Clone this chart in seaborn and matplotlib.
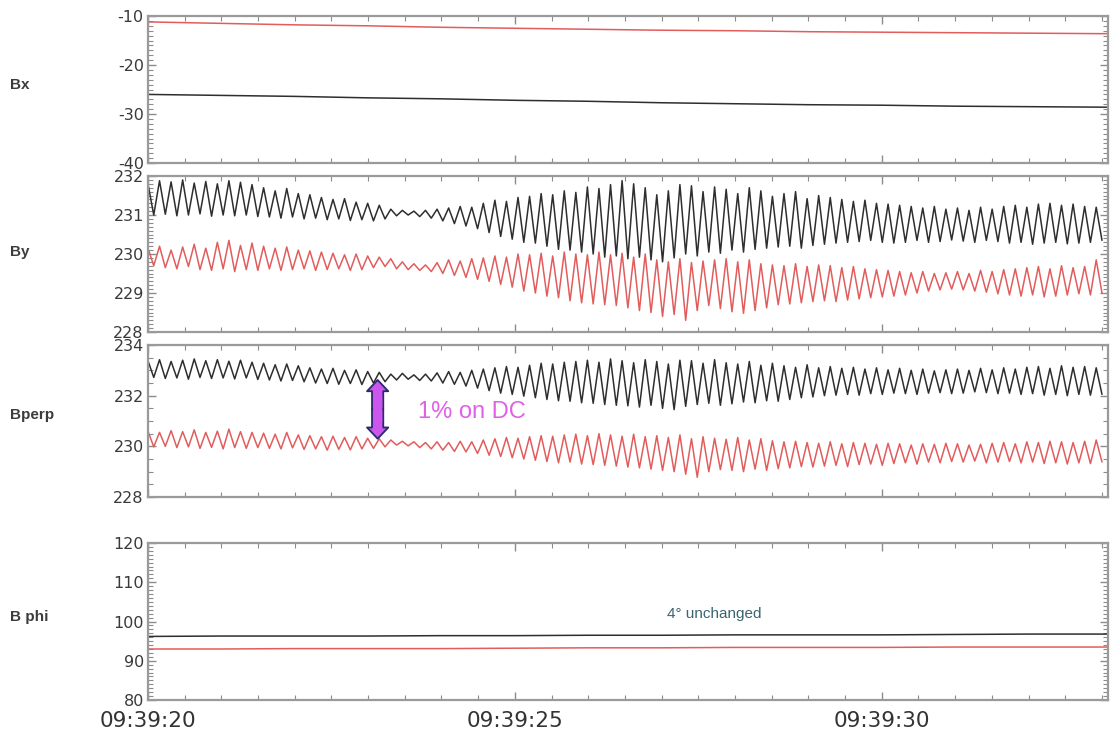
# Magnetometer traces, 09:39:20 onwards: Bx, By, Bperp, B phi (black / red sensors)
import numpy as np
import pandas as pd
import seaborn as sns
import matplotlib.pyplot as plt
from matplotlib.ticker import MultipleLocator, FixedLocator

sns.set_style('ticks')
plt.rcParams['font.family'] = ['Liberation Sans', 'DejaVu Sans']
plt.rcParams['axes.unicode_minus'] = False

# time span in seconds after 09:39:20, and number of wave cycles in it
t_end = 13.08
n_cyc = 83
period = t_end / n_cyc

# slow panels: one reading per second
slow_t = [0, 1, 2, 3, 4, 5, 6, 7, 8, 9, 10, 11, 12, 13, 13.08]
bx_red = [-11.2, -11.5, -11.8, -12.0, -12.3, -12.5, -12.7, -12.9, -13.0, -13.2, -13.3, -13.4, -13.5, -13.6, -13.6]
bx_black = [-26.0, -26.2, -26.4, -26.7, -26.9, -27.2, -27.4, -27.7, -27.9, -28.1, -28.2, -28.4, -28.5, -28.6, -28.6]
bphi_black = [96.2, 96.3, 96.3, 96.3, 96.4, 96.4, 96.5, 96.5, 96.6, 96.6, 96.6, 96.7, 96.8, 96.8, 96.8]
bphi_red = [93.0, 93.0, 93.1, 93.1, 93.1, 93.2, 93.3, 93.3, 93.4, 93.4, 93.4, 93.5, 93.5, 93.5, 93.5]

# wave panels: peak (hi) and trough (lo) of every cycle
by_black_hi = [231.80, 231.88, 231.85, 231.90, 231.82, 231.86, 231.80, 231.88, 231.84, 231.78,
               231.70, 231.62, 231.68, 231.55, 231.52, 231.45, 231.40, 231.42, 231.33, 231.30,
               231.25, 231.15, 231.12, 231.10, 231.12, 231.15, 231.18, 231.22, 231.20, 231.30,
               231.38, 231.35, 231.45, 231.48, 231.55, 231.52, 231.62, 231.58, 231.72, 231.68,
               231.78, 231.88, 231.80, 231.70, 231.52, 231.62, 231.78, 231.75, 231.60, 231.72,
               231.66, 231.55, 231.70, 231.62, 231.48, 231.55, 231.60, 231.42, 231.50, 231.45,
               231.40, 231.35, 231.38, 231.30, 231.28, 231.25, 231.22, 231.18, 231.22, 231.15,
               231.18, 231.12, 231.20, 231.15, 231.22, 231.25, 231.20, 231.28, 231.30, 231.25,
               231.28, 231.22, 231.20]
by_black_lo = [231.00, 231.02, 230.98, 231.00, 231.03, 230.97, 231.00, 230.98, 231.00, 230.96,
               230.95, 230.92, 230.95, 230.90, 230.92, 230.88, 230.90, 230.86, 230.88, 230.85,
               230.90, 230.98, 231.00, 230.96, 230.92, 230.85, 230.78, 230.72, 230.65, 230.55,
               230.45, 230.38, 230.30, 230.28, 230.20, 230.12, 230.10, 230.05, 230.00, 229.92,
               229.95, 229.88, 229.92, 229.85, 229.80, 229.90, 230.00, 229.95, 230.05, 230.02,
               230.10, 230.05, 230.12, 230.15, 230.18, 230.20, 230.15, 230.22, 230.25, 230.28,
               230.30, 230.32, 230.35, 230.30, 230.28, 230.30, 230.35, 230.30, 230.32, 230.36,
               230.33, 230.30, 230.35, 230.32, 230.28, 230.30, 230.25, 230.28, 230.30, 230.26,
               230.28, 230.30, 230.35]
by_red_hi = [230.15, 230.20, 230.10, 230.18, 230.25, 230.15, 230.30, 230.35, 230.22, 230.28,
             230.20, 230.15, 230.18, 230.10, 230.08, 230.05, 230.02, 229.98, 230.00, 229.95,
             229.92, 229.88, 229.80, 229.75, 229.72, 229.78, 229.85, 229.82, 229.88, 229.90,
             229.95, 229.92, 230.00, 229.98, 230.02, 229.95, 230.05, 230.00, 229.98, 230.05,
             229.98, 230.02, 229.92, 230.00, 229.85, 229.80, 229.88, 229.78, 229.82, 229.85,
             229.88, 229.80, 229.85, 229.75, 229.72, 229.70, 229.75, 229.68, 229.72, 229.70,
             229.65, 229.68, 229.62, 229.60, 229.58, 229.55, 229.52, 229.55, 229.50, 229.52,
             229.55, 229.50, 229.58, 229.55, 229.60, 229.62, 229.65, 229.68, 229.62, 229.70,
             229.65, 229.68, 229.85]
by_red_lo = [229.70, 229.65, 229.62, 229.68, 229.60, 229.58, 229.62, 229.55, 229.60, 229.58,
             229.62, 229.58, 229.60, 229.62, 229.58, 229.60, 229.62, 229.58, 229.60, 229.65,
             229.68, 229.62, 229.60, 229.58, 229.55, 229.50, 229.45, 229.40, 229.35, 229.30,
             229.22, 229.15, 229.05, 229.00, 228.92, 228.88, 228.80, 228.75, 228.72, 228.70,
             228.68, 228.62, 228.55, 228.50, 228.40, 228.45, 228.30, 228.55, 228.68, 228.60,
             228.52, 228.48, 228.55, 228.62, 228.70, 228.72, 228.75, 228.78, 228.80, 228.78,
             228.82, 228.85, 228.88, 228.90, 228.92, 228.95, 229.00, 229.05, 229.08, 229.10,
             229.08, 229.05, 229.02, 228.98, 228.95, 228.92, 228.95, 228.90, 228.92, 228.95,
             228.98, 228.95, 229.00]
bperp_black_hi = [233.38, 233.42, 233.35, 233.40, 233.45, 233.38, 233.42, 233.36, 233.40, 233.32,
                  233.28, 233.22, 233.25, 233.18, 233.10, 233.05, 233.08, 233.00, 233.02, 232.95,
                  232.92, 232.85, 232.88, 232.82, 232.85, 232.90, 232.95, 232.92, 233.00, 233.05,
                  233.10, 233.15, 233.12, 233.20, 233.28, 233.25, 233.32, 233.35, 233.40, 233.32,
                  233.45, 233.38, 233.30, 233.42, 233.35, 233.25, 233.40, 233.38, 233.28, 233.42,
                  233.30, 233.25, 233.35, 233.20, 233.28, 233.18, 233.12, 233.22, 233.10, 233.15,
                  233.08, 233.12, 233.05, 233.10, 233.02, 233.08, 233.00, 233.05, 232.98, 233.02,
                  233.05, 233.00, 233.08, 233.02, 233.10, 233.05, 233.12, 233.15, 233.08, 233.18,
                  233.12, 233.15, 233.10]
bperp_black_lo = [232.72, 232.68, 232.70, 232.65, 232.72, 232.68, 232.70, 232.66, 232.70, 232.64,
                  232.62, 232.58, 232.60, 232.55, 232.50, 232.48, 232.45, 232.48, 232.44, 232.50,
                  232.55, 232.62, 232.65, 232.60, 232.58, 232.50, 232.45, 232.38, 232.30, 232.20,
                  232.10, 232.05, 231.98, 231.92, 231.85, 231.80, 231.78, 231.72, 231.70, 231.65,
                  231.62, 231.60, 231.55, 231.62, 231.50, 231.45, 231.58, 231.65, 231.70, 231.62,
                  231.68, 231.75, 231.72, 231.80, 231.78, 231.85, 231.92, 231.95, 232.00, 232.02,
                  232.05, 232.02, 232.08, 232.05, 232.10, 232.08, 232.05, 232.10, 232.12, 232.08,
                  232.10, 232.15, 232.12, 232.08, 232.10, 232.05, 232.08, 232.02, 232.05, 232.00,
                  232.05, 232.02, 232.05]
bperp_red_hi = [230.60, 230.55, 230.62, 230.58, 230.65, 230.55, 230.60, 230.68, 230.58, 230.55,
                230.52, 230.48, 230.55, 230.45, 230.42, 230.38, 230.40, 230.35, 230.38, 230.32,
                230.30, 230.25, 230.20, 230.18, 230.15, 230.18, 230.15, 230.20, 230.18, 230.25,
                230.30, 230.35, 230.32, 230.38, 230.42, 230.40, 230.45, 230.48, 230.42, 230.50,
                230.45, 230.40, 230.48, 230.38, 230.42, 230.35, 230.45, 230.30, 230.38, 230.32,
                230.28, 230.35, 230.25, 230.30, 230.22, 230.18, 230.20, 230.15, 230.12, 230.18,
                230.10, 230.15, 230.12, 230.08, 230.12, 230.10, 230.05, 230.10, 230.08, 230.12,
                230.10, 230.05, 230.08, 230.12, 230.15, 230.10, 230.18, 230.15, 230.20, 230.18,
                230.15, 230.20, 230.25]
bperp_red_lo = [229.98, 230.00, 229.95, 229.98, 229.92, 229.96, 229.90, 229.95, 229.92, 229.95,
                229.92, 229.90, 229.94, 229.88, 229.90, 229.85, 229.88, 229.86, 229.90, 229.92,
                229.98, 230.05, 230.02, 229.95, 229.90, 229.85, 229.80, 229.78, 229.72, 229.65,
                229.60, 229.55, 229.50, 229.45, 229.40, 229.35, 229.38, 229.30, 229.28, 229.25,
                229.22, 229.18, 229.15, 229.10, 229.05, 229.00, 228.90, 228.78, 229.00, 229.08,
                229.05, 229.00, 229.10, 229.05, 229.12, 229.15, 229.20, 229.18, 229.22, 229.25,
                229.20, 229.28, 229.30, 229.25, 229.32, 229.35, 229.30, 229.38, 229.35, 229.40,
                229.38, 229.42, 229.35, 229.38, 229.40, 229.35, 229.38, 229.32, 229.35, 229.30,
                229.35, 229.32, 229.38]

time_ticks = [0, 5, 10]
time_labels = ['09:39:20', '09:39:25', '09:39:30']

panel_names = ['Bx', 'By', 'Bperp', 'B phi']
colors = {'black': '#2e2e2e', 'red': '#e25c5c'}


def wave(hi, lo, trace):
    t = np.arange(len(hi)) * period
    return pd.DataFrame({'t': np.column_stack([t, t + period / 2]).ravel(),
                         'v': np.column_stack([hi, lo]).ravel(),
                         'trace': trace})


def slow(vals, trace):
    return pd.DataFrame({'t': slow_t, 'v': vals, 'trace': trace})


frames = [
    pd.concat([slow(bx_black, 'black'), slow(bx_red, 'red')]),
    pd.concat([wave(by_black_hi, by_black_lo, 'black'), wave(by_red_hi, by_red_lo, 'red')]),
    pd.concat([wave(bperp_black_hi, bperp_black_lo, 'black'), wave(bperp_red_hi, bperp_red_lo, 'red')]),
    pd.concat([slow(bphi_black, 'black'), slow(bphi_red, 'red')]),
]
ylims = [(-40, -10), (228, 232), (228, 234), (80, 120)]
majors = [10, 1, 2, 10]
minors = [1, 0.1, 0.5, 1]
label_y = [0.884, 0.657, 0.435, 0.161]

# axes boxes in figure fraction [left, bottom, width, height]
boxes = [
    [0.1333, 0.7782, 0.8647, 0.2000],
    [0.1333, 0.5483, 0.8647, 0.2122],
    [0.1333, 0.3238, 0.8647, 0.2068],
    [0.1333, 0.0476, 0.8647, 0.2136],
]

fig = plt.figure(figsize=(11.1, 7.35), dpi=100)
axes = []
for i, df in enumerate(frames):
    ax = fig.add_axes(boxes[i])
    sns.lineplot(data=df, x='t', y='v', hue='trace', palette=colors, estimator=None,
                 sort=False, lw=1.1, legend=False, ax=ax)
    ax.set_xlim(0, t_end)
    ax.set_ylim(*ylims[i])
    ax.yaxis.set_major_locator(MultipleLocator(majors[i]))
    ax.yaxis.set_minor_locator(MultipleLocator(minors[i]))
    ax.xaxis.set_major_locator(FixedLocator(time_ticks))
    ax.xaxis.set_minor_locator(MultipleLocator(0.5))
    ax.tick_params(which='both', direction='in', top=True, right=True, color='#8c8c8c')
    ax.tick_params(which='major', length=6, width=1)
    ax.tick_params(which='minor', length=3.5, width=0.8)
    ax.tick_params(axis='y', labelsize=11.5, labelcolor='#3a3a3a', pad=3)
    for lab in ax.get_yticklabels():
        lab.set_family('DejaVu Sans')
    if i < 3:
        ax.set_xticklabels([])
    else:
        ax.set_xticklabels(time_labels, fontsize=15.5, color='#333333', family='DejaVu Sans')
        ax.tick_params(axis='x', pad=8)
    for sp in ax.spines.values():
        sp.set_color('#9a9a9a')
        sp.set_linewidth(1.6)
    ax.set_xlabel('')
    ax.set_ylabel('')
    fig.text(0.009, label_y[i], panel_names[i], fontsize=11, fontweight='bold',
             color='#3c3c3c', va='center', ha='left')
    axes.append(ax)

# annotations: purple double arrow drawn as two block arrows from the middle
ax3 = axes[2]
arrow_x, arrow_top, arrow_bot = 3.13, 232.62, 230.30
arrow_mid = (arrow_top + arrow_bot) / 2
for tip in (arrow_top, arrow_bot):
    ax3.annotate('', xy=(arrow_x, tip), xytext=(arrow_x, arrow_mid),
                 arrowprops=dict(arrowstyle='simple,head_length=0.45,head_width=0.85,tail_width=0.45',
                                 mutation_scale=18, fc='#cc55ee', ec='#2a2a6a', lw=1.3,
                                 shrinkA=0, shrinkB=0))
# cover the seam where the two halves meet
ax3.annotate('', xy=(arrow_x, arrow_mid + 0.5), xytext=(arrow_x, arrow_mid - 0.5),
             arrowprops=dict(arrowstyle='-', lw=6.6, color='#cc55ee', shrinkA=0, shrinkB=0))
ax3.text(3.68, 231.35, '1% on DC', fontsize=17, color='#e060e8', va='center', ha='left')

axes[3].text(7.08, 101.9, '4° unchanged', fontsize=11, color='#3a6472', va='center',
             ha='left', family=['Liberation Sans Narrow', 'Liberation Sans'])

fig.savefig('out.png', dpi=100)
